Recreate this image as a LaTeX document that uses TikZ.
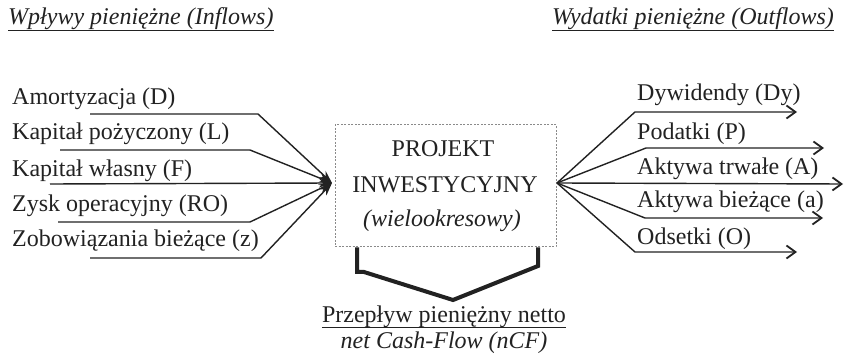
\documentclass[tikz,border=0pt]{standalone}
\usepackage{fontspec}
\setmainfont{Liberation Serif}
\usetikzlibrary{arrows.meta}
\definecolor{ink}{HTML}{222222}
\definecolor{boxgray}{HTML}{8A8A8A}
\begin{document}
\begin{tikzpicture}[x=1pt,y=-1pt,
  txt/.style={inner sep=0pt, text=ink, font=\fontsize{24}{28}\selectfont},
  lbl/.style={txt, anchor=base west},
  ttl/.style={txt, anchor=base west, font=\fontsize{24}{28}\selectfont\itshape},
  flow/.style={draw=ink, line width=1.4pt, line join=round},
  inarrow/.style={flow, -{Stealth[length=13pt,width=9pt]}},
  outarrow/.style={flow, -{Straight Barb[length=9pt,width=13pt,line width=1.8pt]}},
  uline/.style={draw=ink, line width=0.9pt},
  projbox/.style={draw=boxgray, line width=1pt, dash pattern=on 2pt off 1.5pt, minimum width=221pt, minimum height=122pt, inner sep=0pt}
]
\useasboundingbox (0,0) rectangle (847,355);
\fill[white] (0,0) rectangle (847,355);

% titles
\node[ttl] (tin) at (8,25) {Wpływy pieniężne (Inflows)};
\node[ttl] (tout) at (552,25) {Wydatki pieniężne (Outflows)};
\draw[uline] ([yshift=-5pt]tin.base west) -- ([yshift=-5pt]tin.base east);
\draw[uline] ([yshift=-5pt]tout.base west) -- ([yshift=-5pt]tout.base east);

% project box
\node[projbox] (proj) at (445.5,186) {};
\node[txt, anchor=base] (p1) at (443,157) {PROJEKT};
\node[txt, anchor=base] (p2) at (445,193) {INWESTYCYJNY};
\node[txt, anchor=base, font=\fontsize{24}{28}\selectfont\itshape] (p3) at (442,227) {(wielookresowy)};

\coordinate (tip) at (332,183);
\coordinate (src) at (557,183);

% inflow labels
\node[lbl] (iD) at (12,105) {Amortyzacja (D)};
\node[lbl] (iL) at (12,140) {Kapitał pożyczony (L)};
\node[lbl] (iF) at (12,177) {Kapitał własny (F)};
\node[lbl] (iRO) at (12,212) {Zysk operacyjny (RO)};
\node[lbl] (iz) at (12,247) {Zobowiązania bieżące (z)};

\coordinate (sD) at (90,114);
\coordinate (sL) at (60,150);
\coordinate (sF) at (50,184);
\coordinate (sRO) at (58,222);
\coordinate (sz) at (90,258);

\draw[inarrow] (sD) -- (258,114) -- (tip);
\draw[inarrow] (sL) -- (250,150) -- (tip);
\draw[inarrow] (sF) -- (tip);
\draw[inarrow] (sRO) -- (250,222) -- (tip);
\draw[inarrow] (sz) -- (261,258) -- (tip);

% outflow labels
\node[lbl] (oDy) at (637,101) {Dywidendy (Dy)};
\node[lbl] (oP) at (637,140) {Podatki (P)};
\node[lbl] (oA) at (637,175) {Aktywa trwałe (A)};
\node[lbl] (oa) at (637,208) {Aktywa bieżące (a)};
\node[lbl] (oO) at (637,245) {Odsetki (O)};

\coordinate (eDy) at (797,112);
\coordinate (eP) at (824,148);
\coordinate (eA) at (843,184);
\coordinate (ea) at (823,218);
\coordinate (eO) at (797,252);

\draw[outarrow] (src) -- (635,112) -- (eDy);
\draw[outarrow] (src) -- (646,148) -- (eP);
\draw[outarrow] (src) -- (eA);
\draw[outarrow] (src) -- (645,218) -- (ea);
\draw[outarrow] (src) -- (635,252) -- (eO);

% bracket
\coordinate (apex) at (453,300);
\draw[draw=ink, line width=4pt, line join=miter] (proj.south -| 357,0) -- (357,272) -- (364,272) -- (apex) -- (538,266) -- (proj.south -| 538,0);

% result text
\node[txt, anchor=base] (net) at (444,323) {Przepływ pieniężny netto};
\draw[uline] ([yshift=-4pt]net.base west) -- ([yshift=-4pt]net.base east);
\node[txt, anchor=base, font=\fontsize{24}{28}\selectfont\itshape] (ncf) at (444,349) {net Cash-Flow (nCF)};
\end{tikzpicture}
\end{document}
